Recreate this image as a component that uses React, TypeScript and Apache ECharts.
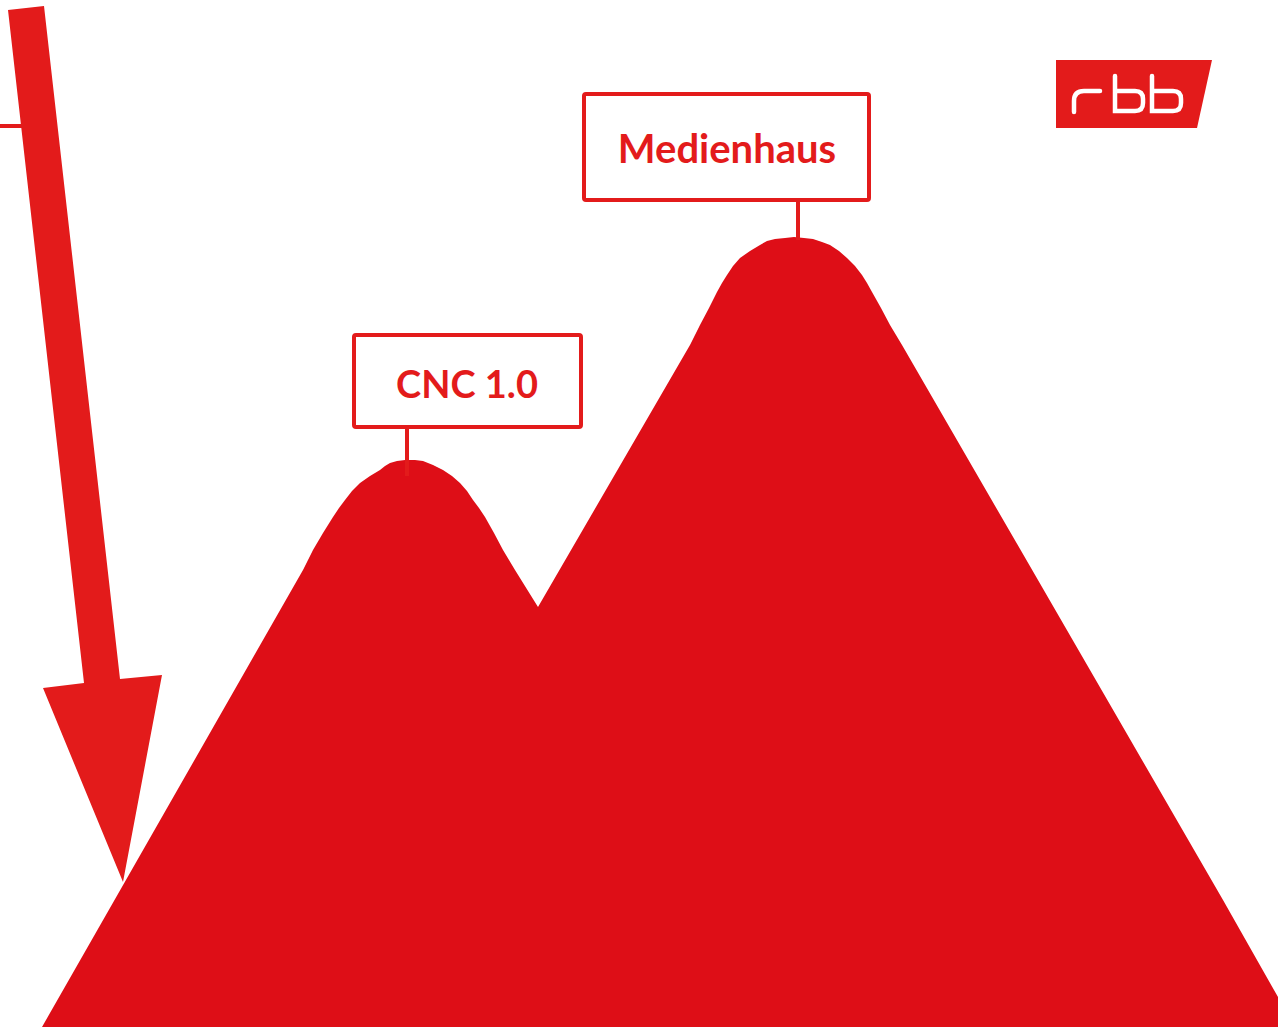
import React, { useEffect, useRef } from "react";
import * as echarts from "echarts";

// Mountain profile (x position, screen top y); elevation = 1027 - top
const profileX = [
  42, 303, 308, 313, 323, 333, 339, 345, 352, 360, 370, 380, 385, 390, 397, 405, 415, 423, 433, 443, 452, 460, 467, 473, 479, 485, 494, 503, 509, 515,
  538,
  690, 695, 700, 709, 717, 722, 727, 733, 740, 750, 760, 767, 775, 785, 794, 804, 813, 822, 830, 839, 847, 855, 862, 867, 872, 881, 890, 896, 902,
  1223, 1278,
];
const profileTop = [
  1027, 570, 560, 550, 533, 517, 508, 500, 491, 483, 476, 470, 466, 463, 461, 460, 460, 461, 465, 470, 476, 483, 491, 500, 508, 517, 533, 550, 560, 570,
  607,
  345, 335, 325, 308, 292, 283, 275, 266, 258, 251, 245, 241, 239, 238, 237, 238, 239, 242, 245, 251, 258, 266, 275, 283, 292, 308, 325, 335, 345,
  900, 997,
];
const elevation = profileTop.map((t) => 1027 - t);

const labels = ["CNC 1.0", "Medienhaus"];
const logoText = "rbb";

const MOUNTAIN = "#DE0E17";
const RED = "#E31B1B";

const logoPath =
  "M1074 112 V101 Q1074 91 1084 91 H1100 " +
  "M1115 76 V111 H1135 Q1143 111 1143 103 V99 Q1143 91 1135 91 H1115 " +
  "M1152 76 V111 H1173 Q1181 111 1181 103 V99 Q1181 91 1173 91 H1152";

export default function App() {
  const ref = useRef<HTMLDivElement>(null);
  useEffect(() => {
    if (!ref.current) return;
    try {
      echarts.graphic.registerShape("rbbLogo", echarts.graphic.extendPath(logoPath, {}));
    } catch (e) {}
    const chart = echarts.init(ref.current, undefined, { renderer: "svg" });
    const data = profileX.map((x, i) => [x, elevation[i]]);
    chart.setOption({
      animation: false,
      backgroundColor: "#ffffff",
      grid: { left: 0, right: 0, top: 0, bottom: 0 },
      xAxis: { type: "value", min: 0, max: 1278, show: false },
      yAxis: { type: "value", min: 0, max: 1027, show: false },
      series: [
        {
          type: "line",
          data,
          symbol: "none",
          smooth: false,
          lineStyle: { width: 0, color: MOUNTAIN },
          areaStyle: { color: MOUNTAIN, opacity: 1 },
          z: 2,
        },
      ],
      graphic: [
        // arrow
        {
          type: "polygon",
          z: 1,
          shape: {
            points: [
              [8, 10], [44, 6], [120, 679], [162, 675], [123, 882], [43, 688], [84, 683],
            ],
          },
          style: { fill: RED },
        },
        {
          type: "line",
          z: 1,
          shape: { x1: 0, y1: 126, x2: 22, y2: 126 },
          style: { stroke: RED, lineWidth: 4 },
        },
        // CNC 1.0 label
        {
          type: "line",
          z: 100,
          shape: { x1: 407, y1: 429, x2: 407, y2: 476 },
          style: { stroke: RED, lineWidth: 4 },
        },
        {
          type: "rect",
          z: 100,
          shape: { x: 354, y: 335, width: 227, height: 92, r: 2 },
          style: { fill: "#ffffff", stroke: RED, lineWidth: 4 },
        },
        {
          type: "text",
          z: 101,
          x: 467,
          y: 383,
          style: {
            text: labels[0],
            fill: RED,
            font: "bold 38px Lato, 'Open Sans', sans-serif",
            align: "center",
            verticalAlign: "middle",
          },
        },
        // Medienhaus label
        {
          type: "line",
          z: 100,
          shape: { x1: 798, y1: 202, x2: 798, y2: 240 },
          style: { stroke: RED, lineWidth: 4 },
        },
        {
          type: "rect",
          z: 100,
          shape: { x: 584, y: 94, width: 285, height: 106, r: 2 },
          style: { fill: "#ffffff", stroke: RED, lineWidth: 4 },
        },
        {
          type: "text",
          z: 101,
          x: 727,
          y: 148,
          style: {
            text: labels[1],
            fill: RED,
            font: "bold 40px Lato, 'Open Sans', sans-serif",
            align: "center",
            verticalAlign: "middle",
          },
        },
        // rbb logo
        {
          type: "polygon",
          z: 100,
          shape: { points: [[1056, 60], [1212, 60], [1197, 128], [1056, 128]] },
          style: { fill: RED },
        },
        {
          type: "rbbLogo",
          z: 101,
          x: 0,
          y: 0,
          name: logoText,
          style: { fill: "none", stroke: "#ffffff", lineWidth: 4.5, lineCap: "round" },
        },
      ],
    });
    return () => chart.dispose();
  }, []);
  return (
    <div
      ref={ref}
      style={{ position: "fixed", left: 0, top: 0, width: 1278, height: 1027 }}
    />
  );
}
